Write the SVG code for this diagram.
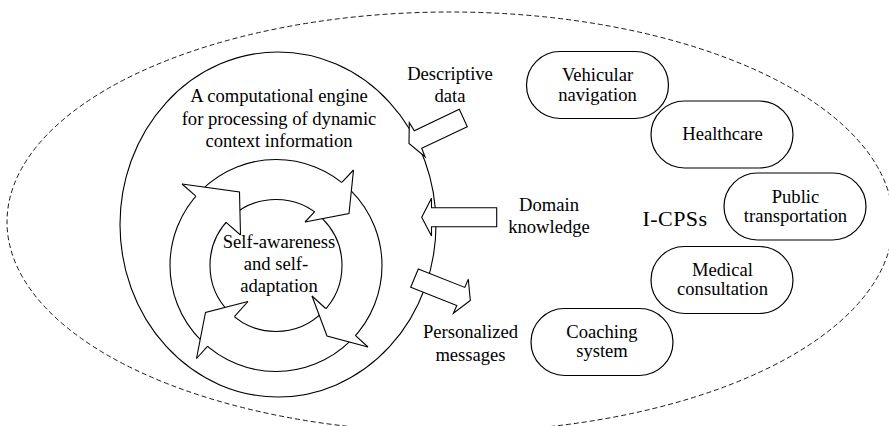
<svg xmlns="http://www.w3.org/2000/svg" width="889" height="426" viewBox="0 0 889 426">
  <style>
    .t{font-family:'Liberation Serif','Times New Roman',Times,serif;font-size:18.6px;fill:#000;text-anchor:middle}
    .big{font-size:22px;letter-spacing:0.4px}
    .ln{fill:none;stroke:#000;stroke-width:1.1;stroke-linejoin:miter}
    .shape{fill:#fff;stroke:#000;stroke-width:1.1;stroke-linejoin:miter}
    .fillonly{fill:#fff;stroke:none}
    .pill{fill:#fff;stroke:#000;stroke-width:1.2}
    .dash{fill:none;stroke:#000;stroke-width:0.9;stroke-dasharray:5 3}
  </style>

  <!-- I-CPS boundary -->
  <g id="boundary">
    <ellipse class="dash" cx="450" cy="222" rx="443" ry="210"/>
  </g>

  <!-- computational engine -->
  <g id="engine">
    <ellipse class="shape" cx="278" cy="224.5" rx="158" ry="172.5"/>
    <text class="t" x="279" y="101.5">A computational engine</text>
    <text class="t" x="279" y="124.5">for processing of dynamic</text>
    <text class="t" x="279" y="147">context information</text>
  </g>

  <!-- self-awareness / self-adaptation cycle -->
  <g id="cycle">
    <circle class="shape" cx="276" cy="265.5" r="106"/>
    <circle class="shape" cx="276" cy="265.5" r="66"/>
    <!-- heads: white triangle, tip edges, back edge outside the band -->
    <polygon class="fillonly" points="182,184 239.5,192 240.5,235"/>
    <polyline class="ln" points="182,184 239.5,192 240.5,235"/>
    <line class="ln" x1="182" y1="184" x2="195.6" y2="195.9"/>
    <line class="ln" x1="240.5" y1="235" x2="225.8" y2="222.2"/>

    <polygon class="fillonly" points="353.5,170 349,213.5 305,222"/>
    <polyline class="ln" points="353.5,170 349,213.5 305,222"/>
    <line class="ln" x1="353.5" y1="170" x2="342.1" y2="182.2"/>
    <line class="ln" x1="305" y1="222" x2="314.7" y2="211.6"/>

    <polygon class="fillonly" points="368,347 327,336 312,296"/>
    <polyline class="ln" points="368,347 327,336 312,296"/>
    <line class="ln" x1="368" y1="347" x2="355.3" y2="335.4"/>
    <line class="ln" x1="312" y1="296" x2="325.7" y2="308.5"/>

    <polygon class="fillonly" points="196.5,358.5 205.5,312.5 248,301.5"/>
    <polyline class="ln" points="196.5,358.5 205.5,312.5 248,301.5"/>
    <line class="ln" x1="196.5" y1="358.5" x2="207.7" y2="346.1"/>
    <line class="ln" x1="248" y1="301.5" x2="234.6" y2="316.4"/>

    <text class="t" x="279" y="247.5">Self-awareness</text>
    <text class="t" x="276" y="269.5">and self-</text>
    <text class="t" x="279" y="291.5">adaptation</text>
  </g>

  <!-- data flows between the engine and the I-CPSs -->
  <g id="connectors">
    <polygon class="shape" points="409,143.5 409.3,122.7 414.3,130.7 459.3,109.3 467.3,126.7 421.7,148.3 425,156.7"/>
    <polygon class="shape" points="421.7,217.2 431.5,198.3 431.5,207.7 496.7,207.7 496.7,226.7 431.5,226.7 431.5,236"/>
    <polygon class="shape" points="418.3,269 464.8,287.4 468.3,279.3 470.3,300.5 453.4,313.2 456.8,305.5 410.7,287.3"/>
    <text class="t" x="450" y="79.5">Descriptive</text>
    <text class="t" x="450" y="101.5">data</text>
    <text class="t" x="549" y="210.5">Domain</text>
    <text class="t" x="549" y="232.5">knowledge</text>
    <text class="t" x="470.5" y="338.3">Personalized</text>
    <text class="t" x="470.5" y="361">messages</text>
  </g>

  <g id="icps-label">
    <text class="t big" x="675" y="226">I-CPSs</text>
  </g>

  <g id="node-vehicular">
    <rect class="pill" x="526.5" y="51.5" width="142" height="67" rx="33.5"/>
    <text class="t" x="597.5" y="81">Vehicular</text>
    <text class="t" x="597.5" y="100.5">navigation</text>
  </g>
  <g id="node-healthcare">
    <rect class="pill" x="651" y="101" width="142" height="67" rx="33.5"/>
    <text class="t" x="722.5" y="139.5">Healthcare</text>
  </g>
  <g id="node-public">
    <rect class="pill" x="724" y="173" width="142" height="67" rx="33.5"/>
    <text class="t" x="795.5" y="202.5">Public</text>
    <text class="t" x="795.5" y="221.5">transportation</text>
  </g>
  <g id="node-medical">
    <rect class="pill" x="651" y="246.5" width="142" height="67" rx="33.5"/>
    <text class="t" x="722.5" y="276">Medical</text>
    <text class="t" x="722.5" y="295">consultation</text>
  </g>
  <g id="node-coaching">
    <rect class="pill" x="531" y="308.5" width="142" height="67" rx="33.5"/>
    <text class="t" x="602" y="337.5">Coaching</text>
    <text class="t" x="602" y="356.5">system</text>
  </g>
</svg>
